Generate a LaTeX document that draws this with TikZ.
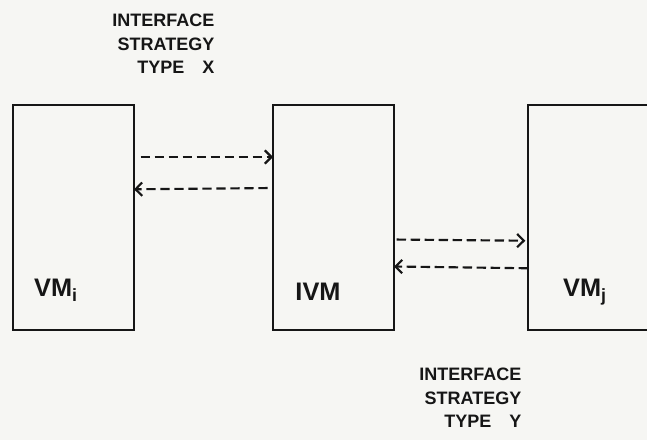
\documentclass[tikz,border=0pt]{standalone}
\usepackage{fontspec}
\setmainfont{Liberation Sans}
\usetikzlibrary{arrows.meta,positioning}
\definecolor{paper}{RGB}{246,246,243}
\definecolor{ink}{RGB}{22,22,22}
\begin{document}
\begin{tikzpicture}[x=0.75pt,y=-0.75pt,
  vmbox/.style={draw=ink,line width=1.8pt,minimum width=90.75pt,minimum height=168.75pt,inner sep=0pt,outer sep=0pt},
  boxtext/.style={text=ink,font=\fontsize{19}{21}\selectfont\bfseries},
  strategy/.style={text=ink,align=right,anchor=east,font=\fontsize{13.5}{17.6}\selectfont\bfseries},
  flow/.style={draw=ink,line width=1.6pt,dash pattern=on 7pt off 3.5pt,-{Straight Barb[length=5pt,width=10pt,line width=1.6pt]}}]
\path[use as bounding box,fill=paper] (0,0) rectangle (647,440);
\node[vmbox](vmi) at (73.5,217.5){};
\node[vmbox](ivm) at (333.5,217.5){};
\node[vmbox](vmj) at (588.5,217.5){};
\node[boxtext](vmi-text) at (56,290){VM\textsubscript{i}};
\node[boxtext](ivm-text) at (318,292){IVM};
\node[boxtext](vmj-text) at (585,292){VM\textsubscript{j}};
\node[strategy](type-x) at (219,44){INTERFACE\\STRATEGY\\TYPE\quad X};
\node[strategy](type-y) at (526,398){INTERFACE\\STRATEGY\\TYPE\quad Y};
\draw[flow,shorten <=5pt] (vmi.45) to (ivm.135);
\draw[flow,shorten <=4pt] (ivm.154.8) to (vmi.25.2);
\draw[flow,shorten <=2pt,shorten >=2pt] (ivm.-20.4) to (vmj.-159.6);
\draw[flow] (vmj.-140.1) to (ivm.-39.9);
\end{tikzpicture}
\end{document}
